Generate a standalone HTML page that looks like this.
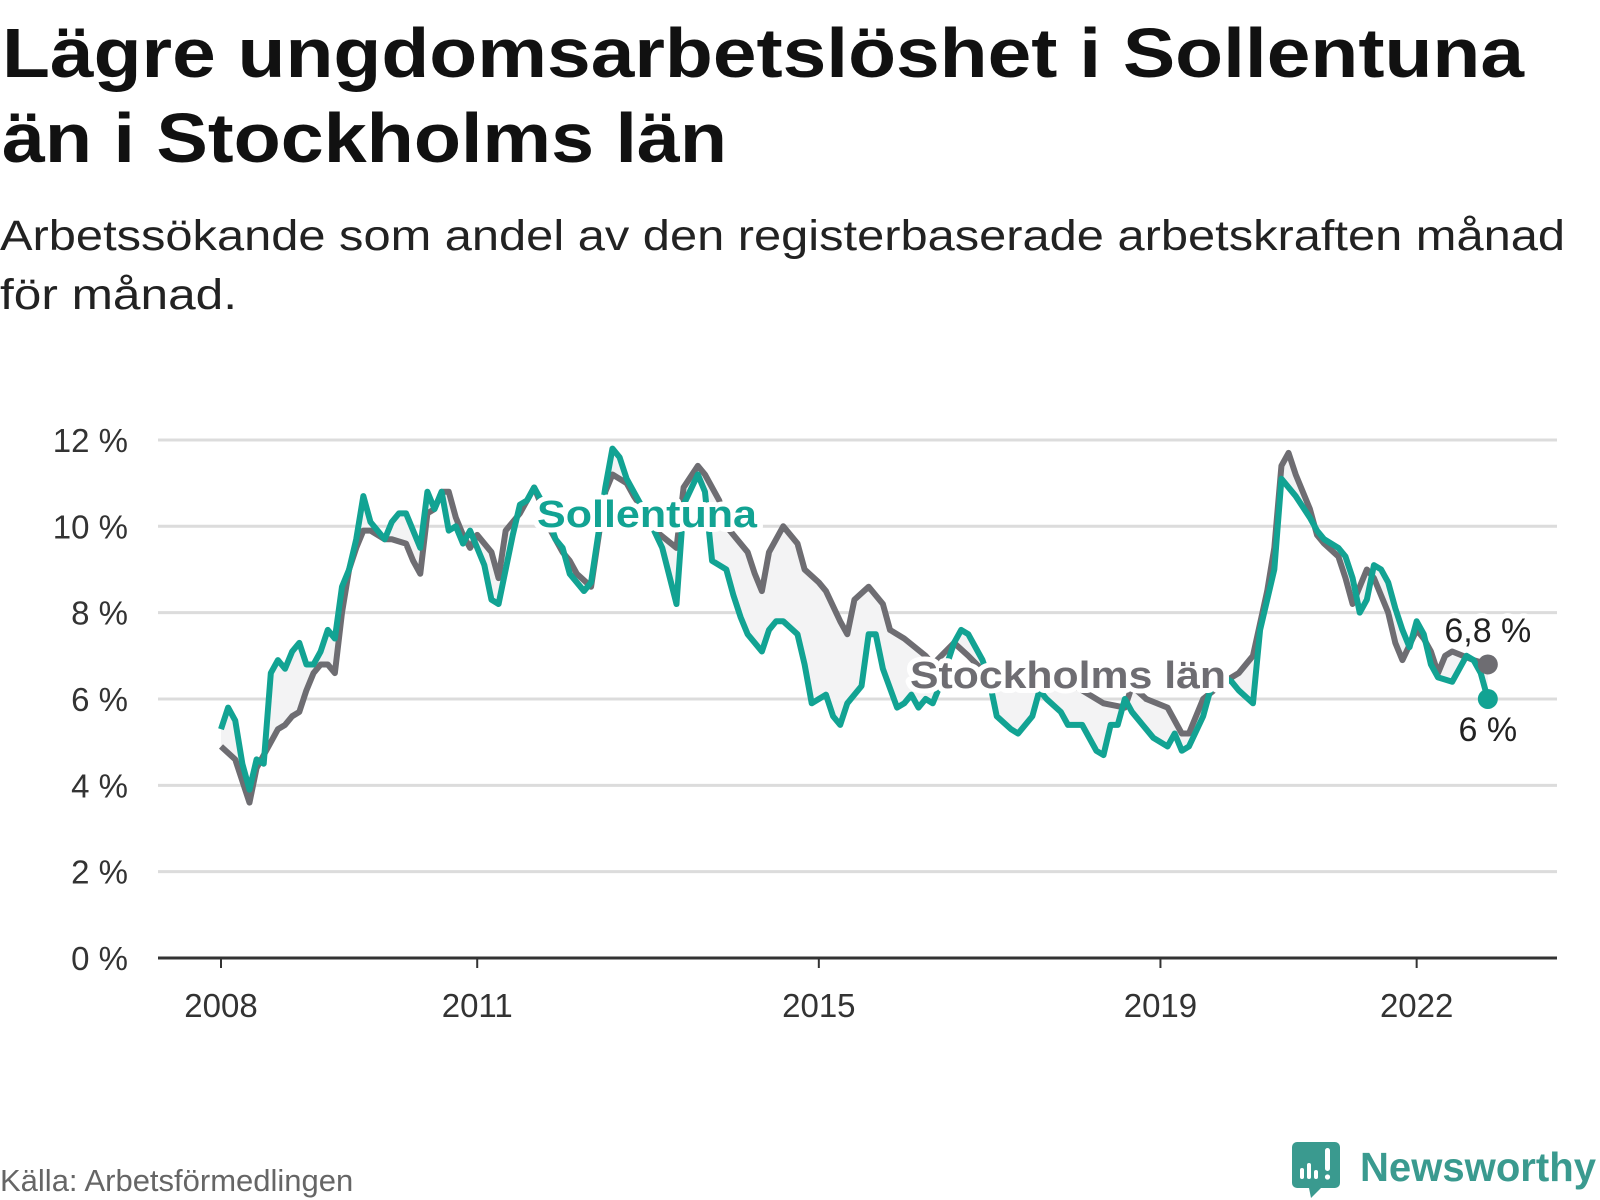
<!DOCTYPE html>
<html><head><meta charset="utf-8"><style>
html,body{margin:0;padding:0;background:#fff;}
svg{display:block;font-family:"Liberation Sans",sans-serif;}
</style></head><body>
<svg id="chart" width="1600" height="1200" viewBox="0 0 1600 1200" xmlns="http://www.w3.org/2000/svg">
<text x="2" y="77" font-size="70" font-weight="bold" fill="#111" textLength="1522" lengthAdjust="spacingAndGlyphs">Lägre ungdomsarbetslöshet i Sollentuna</text>
<text x="2" y="162" font-size="70" font-weight="bold" fill="#111" textLength="725" lengthAdjust="spacingAndGlyphs">än i Stockholms län</text>
<text x="0" y="250" font-size="43" fill="#222" textLength="1565" lengthAdjust="spacingAndGlyphs">Arbetssökande som andel av den registerbaserade arbetskraften månad</text>
<text x="0" y="309" font-size="43" fill="#222" textLength="237" lengthAdjust="spacingAndGlyphs">för månad.</text>
<g id="grid"></g>
<g id="fill"></g>
<g id="lines"></g>
<g id="axis"></g>
<g id="labels"></g>
<text x="0" y="1191" font-size="31" fill="#666">Källa: Arbetsförmedlingen</text>
<g>
<path d="M1297 1142 h38 a5 5 0 0 1 5 5 v36 a5 5 0 0 1 -5 5 h-14 l-10 10 l-2 -10 h-12 a5 5 0 0 1 -5 -5 v-36 a5 5 0 0 1 5 -5z" fill="#3a9a8f"/>
<rect x="1300" y="1168" width="4" height="11" rx="2" fill="#fff"/>
<rect x="1307" y="1163" width="4" height="16" rx="2" fill="#fff"/>
<rect x="1314" y="1170" width="4" height="9" rx="2" fill="#fff"/>
<rect x="1325" y="1148" width="5" height="23" rx="2.5" fill="#fff"/>
<circle cx="1327.5" cy="1177" r="2.6" fill="#fff"/>
<text x="1360" y="1181" font-size="41" font-weight="bold" fill="#3a9a8f" textLength="236" lengthAdjust="spacingAndGlyphs">Newsworthy</text>
</g>
</svg>
<script>
const yTicks = [0, 2, 4, 6, 8, 10, 12];
const yTickLabels = ["0 %", "2 %", "4 %", "6 %", "8 %", "10 %", "12 %"];
const xTickMonths = [0, 36, 84, 132, 168];
const xTickLabels = ["2008", "2011", "2015", "2019", "2022"];
const sthlmMonths = [0,2,4,5,7,8,9,10,11,12,13,14,15,16,17,18,19,20,21,23,24,26,27,28,29,30,31,32,33,34,35,36,38,39,40,42,43,44,45,46,47,48,49,50,52,54,55,57,58,60,61,64,65,67,68,70,71,72,74,75,76,77,79,81,82,84,85,87,88,89,91,93,94,96,99,100,103,105,108,111,114,118,122,124,127,128,130,133,135,136,138,141,143,145,147,148,149,150,151,153,154,155,157,158,159,160,161,162,164,165,166,168,169,170,171,172,173,176,178];
const sthlmValues = [4.9,4.6,3.6,4.4,5.0,5.3,5.4,5.6,5.7,6.2,6.6,6.8,6.8,6.6,8.0,9.0,9.5,9.9,9.9,9.7,9.7,9.6,9.2,8.9,10.3,10.4,10.8,10.8,10.2,9.8,9.5,9.8,9.4,8.8,9.9,10.3,10.6,10.9,10.5,10.0,9.7,9.4,9.2,8.9,8.6,10.8,11.2,11.0,10.7,10.2,9.9,9.5,10.9,11.4,11.2,10.6,10.0,9.8,9.4,8.9,8.5,9.4,10.0,9.6,9.0,8.7,8.5,7.8,7.5,8.3,8.6,8.2,7.6,7.4,7.0,6.8,7.3,7.0,6.5,6.7,6.8,6.5,6.1,5.9,5.8,6.3,6.0,5.8,5.2,5.2,6.0,6.4,6.6,7.0,8.5,9.5,11.4,11.7,11.2,10.4,9.8,9.6,9.3,8.8,8.2,8.6,9.0,8.8,8.0,7.3,6.9,7.6,7.4,7.1,6.6,7.0,7.1,6.9,6.8];
const sollMonths = [0,1,2,3,4,5,6,7,8,9,10,11,12,13,14,15,16,17,18,19,20,21,23,24,25,26,27,28,29,30,31,32,33,34,35,36,37,38,39,41,42,43,44,45,46,47,48,49,50,51,52,54,55,56,57,58,60,62,64,65,67,68,69,71,72,73,74,76,77,78,79,81,82,83,85,86,87,88,90,91,92,93,95,96,97,98,99,100,101,103,104,105,107,108,109,111,112,114,115,116,118,119,121,123,124,125,126,127,128,130,131,133,134,135,136,138,139,141,142,143,145,146,148,149,150,151,153,154,155,157,158,159,160,161,162,163,164,165,166,167,168,169,170,171,173,174,175,176,177,178];
const sollValues = [5.3,5.8,5.5,4.5,3.9,4.6,4.5,6.6,6.9,6.7,7.1,7.3,6.8,6.8,7.1,7.6,7.4,8.6,9.0,9.7,10.7,10.1,9.7,10.1,10.3,10.3,9.9,9.5,10.8,10.4,10.8,9.9,10.0,9.6,9.9,9.5,9.1,8.3,8.2,9.8,10.5,10.6,10.9,10.6,10.2,9.7,9.5,8.9,8.7,8.5,8.7,10.9,11.8,11.6,11.1,10.8,10.2,9.5,8.2,10.5,11.2,10.8,9.2,9.0,8.4,7.9,7.5,7.1,7.6,7.8,7.8,7.5,6.8,5.9,6.1,5.6,5.4,5.9,6.3,7.5,7.5,6.7,5.8,5.9,6.1,5.8,6.0,5.9,6.3,7.3,7.6,7.5,6.9,6.4,5.6,5.3,5.2,5.6,6.2,6.0,5.7,5.4,5.4,4.8,4.7,5.4,5.4,6.0,5.7,5.3,5.1,4.9,5.2,4.8,4.9,5.6,6.2,6.5,6.4,6.2,5.9,7.6,9.0,11.1,10.9,10.7,10.2,9.9,9.7,9.5,9.3,8.8,8.0,8.3,9.1,9.0,8.7,8.1,7.6,7.2,7.8,7.5,6.8,6.5,6.4,6.7,7.0,6.9,6.6,6.0];
const lastLabels = ["6,8 %", "6 %"];

const NS = "http://www.w3.org/2000/svg";
const x0 = 221, pxPerMonth = 7.117, y0 = 958, pxPerPct = 43.17;
function xScale(m){ return x0 + m * pxPerMonth; }
function yScale(v){ return y0 - v * pxPerPct; }
function mk(tag, attrs, parent){ const e = document.createElementNS(NS, tag); for (const k in attrs) e.setAttribute(k, attrs[k]); parent.appendChild(e); return e; }

const grid = document.getElementById('grid');
yTicks.forEach((t, i) => {
  if (t > 0) {
    const l = mk('line', {x1:158, x2:1557, y1:yScale(t), y2:yScale(t), stroke:'#dcdcdc', 'stroke-width':3}, grid);
    
    
  }
  const tx = mk('text', {x:128, y:yScale(t)+12, 'text-anchor':'end', 'font-size':33, fill:'#333'}, grid);
  
  
  tx.textContent = yTickLabels[i];
});

const sPts = sthlmMonths.map((m, i) => [xScale(m), yScale(sthlmValues[i])]);
const tPts = sollMonths.map((m, i) => [xScale(m), yScale(sollValues[i])]);
const fillG = document.getElementById('fill');
const area = mk('polygon', {points: sPts.concat(tPts.slice().reverse()).map(p => p.join(',')).join(' '), fill:'#f3f3f4'}, fillG);



const linesG = document.getElementById('lines');
const sl = mk('polyline', {points: sPts.map(p => p.join(',')).join(' '), fill:'none', stroke:'#6e6d72', 'stroke-width':6, 'stroke-linejoin':'round'}, linesG);


const tl = mk('polyline', {points: tPts.map(p => p.join(',')).join(' '), fill:'none', stroke:'#12a393', 'stroke-width':6, 'stroke-linejoin':'round'}, linesG);


const sLast = sPts[sPts.length-1], tLast = tPts[tPts.length-1];
const d1 = mk('circle', {cx:sLast[0], cy:sLast[1], r:10, fill:'#6e6d72'}, linesG);


const d2 = mk('circle', {cx:tLast[0], cy:tLast[1], r:10, fill:'#12a393'}, linesG);



const axis = document.getElementById('axis');
const al = mk('line', {x1:158, x2:1557, y1:y0, y2:y0, stroke:'#333', 'stroke-width':3}, axis);


xTickMonths.forEach((m, i) => {
  const tk = mk('line', {x1:xScale(m), x2:xScale(m), y1:y0, y2:y0+10, stroke:'#333', 'stroke-width':2}, axis);
  
  
  const tx = mk('text', {x:xScale(m), y:1017, 'text-anchor':'middle', 'font-size':33, fill:'#333'}, axis);
  
  
  tx.textContent = xTickLabels[i];
});

const lab = document.getElementById('labels');
function halo(txt, x, y, size, color, bold, name, anchor, len){
  const attrs = {x:x, y:y, 'font-size':size, 'font-weight':bold?'bold':'normal', 'text-anchor':anchor||'start'};
  if (len) { attrs.textLength = len; attrs.lengthAdjust = 'spacingAndGlyphs'; }
  const h = mk('text', Object.assign({}, attrs, {fill:'#fff', stroke:'#fff', 'stroke-width':10, 'stroke-linejoin':'round'}), lab);
  
  
  h.textContent = txt;
  const t = mk('text', Object.assign({}, attrs, {fill:color}), lab);
  
  
  t.textContent = txt;
}
halo('Sollentuna', 537, 527, 38, '#12a393', true, 'sollentuna-label', 'start', 220);
halo('Stockholms län', 910, 688, 38, '#6e6d72', true, 'stockholms-lan-label', 'start', 316);
halo(lastLabels[0], sLast[0], 642, 34, '#222', false, 'stockholms-lan-value-label', 'middle');
halo(lastLabels[1], tLast[0], 741, 34, '#222', false, 'sollentuna-value-label', 'middle');
</script>
</body></html>
